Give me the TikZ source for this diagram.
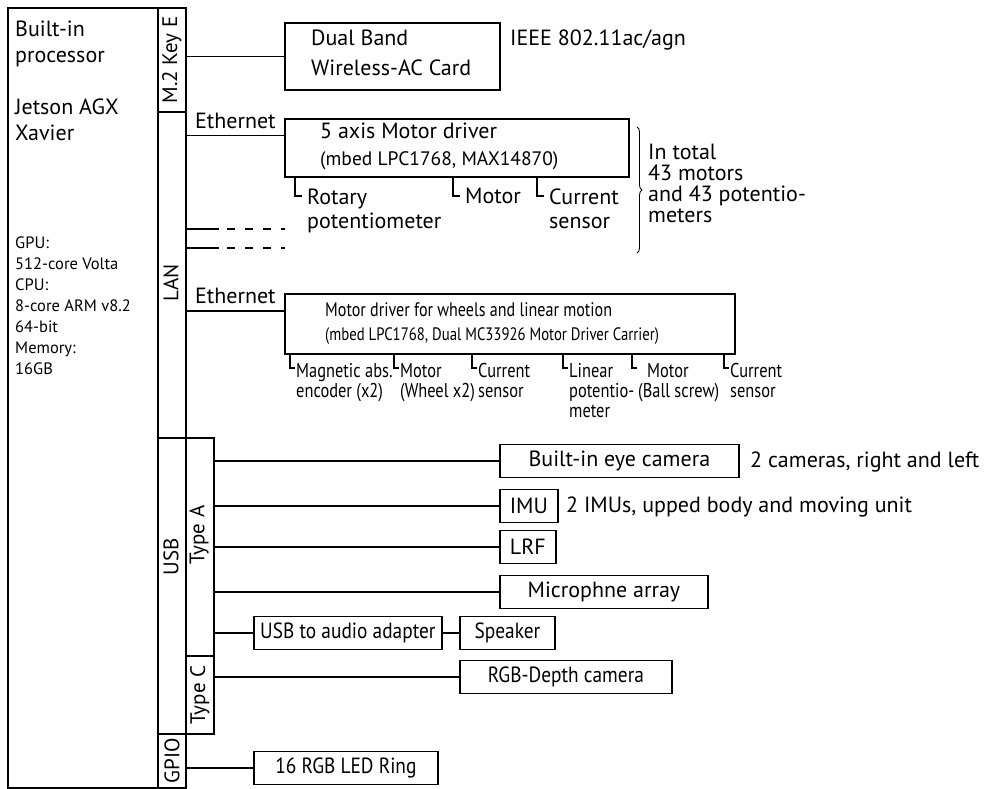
\documentclass[tikz,border=0pt]{standalone}
\usepackage{fontspec}
\setmainfont{PT Sans}
\newfontfamily\smalskrift[FakeStretch=0.82]{PT Sans}
\newfontfamily\tettskrift[FakeStretch=0.88]{PT Sans}
\usetikzlibrary{positioning,decorations.pathreplacing}

\newcommand{\stor}{\fontsize{22}{26}\selectfont}
\newcommand{\liten}{\fontsize{16.5}{21}\selectfont}
\newcommand{\tett}{\tettskrift\fontsize{22}{26}\selectfont}
\newcommand{\smal}{\smalskrift\fontsize{20}{20}\selectfont}
\newcommand{\smalmidt}{\smalskrift\fontsize{19.6}{24}\selectfont}
\newcommand{\smalliten}{\smalskrift\fontsize{18}{20}\selectfont}

\tikzset{
  boks/.style={draw, line width=1.8pt, inner sep=0pt, minimum height=33, anchor=west, font=\stor},
  kol/.style={draw, line width=1.8pt, inner sep=0pt, minimum width=28, anchor=north west},
  rot/.style={rotate=90, inner sep=0pt, font=\fontsize{21}{24}\selectfont},
  tekst/.style={inner sep=0pt, align=left, anchor=base west, font=\stor},
  ledning/.style={line width=1.2pt},
}

\begin{document}
\begin{tikzpicture}[x=1pt, y=-1pt]
  \useasboundingbox (0,0) rectangle (991,789);

  % prosessor
  \node[draw, line width=1.8pt, inner sep=0pt, minimum width=150, minimum height=780, anchor=north west] (xavier) at (7,7) {};
  \node[tekst] (navn) at (15,63) {Built-in\\processor};
  \node[tekst] (jetson) at (15,141) {Jetson AGX\\Xavier};
  \node[tekst, font=\liten] (spek) at (15,374) {GPU:\\512-core Volta\\CPU:\\8-core ARM v8.2\\64-bit\\Memory:\\16GB};

  % grensesnitt
  \node[kol, minimum height=104] (m2) at (157,7) {};
  \node[kol, minimum height=326] (lan) at (157,111) {};
  \node[kol, minimum height=296] (usb) at (157,437) {};
  \node[kol, minimum height=54] (gpio) at (157,733) {};
  \node[kol, minimum height=218] (typea) at (185,437) {};
  \node[kol, minimum height=78] (typec) at (185,655) {};
  \node[rot] (lm2) at (m2) {M.2 Key E};
  \node[rot] (llan) at (171,283) {LAN};
  \node[rot] (lusb) at (171,557) {USB};
  \node[rot] (lgpio) at (gpio) {GPIO};
  \node[rot] (ltypea) at (199,535) {Type A};
  \node[rot] (ltypec) at (typec) {Type C};

  % M.2: trådløst kort
  \node[boks, minimum width=215, minimum height=67, anchor=north west] (wifi) at (284,22) {};
  \node[tekst, font=\fontsize{22}{30}\selectfont] (wifitekst) at (311,76) {Dual Band\\Wireless-AC Card};
  \node[tekst] (ieee) at (510,46) {IEEE 802.11ac/agn};
  \draw[ledning] (wifi.west -| m2.east) -- (wifi.west);

  % LAN: 5-akse motordriver
  \node[boks, minimum width=344, minimum height=58, anchor=north west] (driver5) at (284,118) {};
  \node[tekst] (driver5tekst) at (320,139) {5 axis Motor driver};
  \node[tekst, font=\fontsize{19.5}{24}\selectfont] (driver5chip) at (320,166) {(mbed LPC1768, MAX14870)};
  \draw[ledning] ([yshift=12pt]driver5.west -| lan.east) -- node[above=7pt, inner sep=0pt, font=\stor] (eth1) {Ethernet} ([yshift=12pt]driver5.west);
  \foreach \x/\n/\navn/\tekst in {307/1/rotpot/{Rotary\\potentiometer}, 465/0/motor/{Motor}, 549/1/strom/{Current\\sensor}}{
    \node[tekst, font=\fontsize{22}{24}\selectfont] (\navn) at (\x,204+\n*24) {\tekst};
    \coordinate (\navn-hake) at (\x-5,196);
    \draw[ledning] ([xshift=-7pt]\navn-hake |- driver5.south) |- (\navn-hake);
  }
  \draw[decorate, decoration={brace, amplitude=5pt}, line width=0.9pt] (637,127) -- (637,253);
  \node[tekst, font=\fontsize{22}{21.1}\selectfont] (totalt) at (648,222.7) {In total\\43 motors\\and 43 potentio-\\meters};

  % flere drivere, stiplet
  \foreach \y in {229,248}{
    \coordinate (slutt\y) at (285,\y);
    \draw[ledning] (lan.east |- slutt\y) -- ++(32,0);
    \draw[ledning, dash pattern=on 8pt off 10pt] ([xshift=-58pt]slutt\y) -- (slutt\y);
  }

  % LAN: hjul og lineær bevegelse
  \node[boks, minimum width=450, minimum height=60, anchor=north west] (driverh) at (284,293) {};
  \node[tekst, font=\smalmidt] (driverhtekst) at (325,316) {Motor driver for wheels and linear motion};
  \node[tekst, font=\smalliten] (driverhchip) at (325,340) {(mbed LPC1768, Dual MC33926 Motor Driver Carrier)};
  \draw[ledning] ([yshift=13pt]driverh.west -| lan.east) -- node[above=7pt, inner sep=0pt, font=\stor] (eth2) {Ethernet} ([yshift=13pt]driverh.west);
  \foreach \x/\n/\navn/\tekst in {296/1/magenc/{Magnetic abs.\\encoder (x2)}, 400/1/hjul/{Motor\\(Wheel x2)},
      478/1/strom2/{Current\\sensor}, 569/2/linpot/{Linear\\potentio-\\meter}, 638/1/kule/{\hspace{9pt}Motor\\(Ball screw)},
      730/1/strom3/{Current\\sensor}}{
    \node[tekst, font=\smal] (\navn) at (\x,377+\n*20) {\tekst};
    \coordinate (\navn-hake) at (\x-1,368);
    \draw[ledning] ([xshift=-5pt]\navn-hake |- driverh.south) |- (\navn-hake);
  }

  % USB
  \node[boks, minimum width=239] (eye) at (499,461) {Built-in eye camera};
  \node[tekst] (eyenote) at (750,467) {2 cameras, right and left};
  \node[boks, minimum width=58] (imu) at (499,506) {IMU};
  \node[tekst] (imunote) at (566,512) {2 IMUs, upped body and moving unit};
  \node[boks, minimum width=56] (lrf) at (499,547) {LRF};
  \node[boks, minimum width=208] (mic) at (499,592) {Microphne array};
  \node[boks, minimum width=188, font=\tett] (audio) at (253,633) {USB to audio adapter};
  \node[boks, minimum width=95, font=\tett] (speaker) at (459,633) {Speaker};
  \node[boks, minimum width=212, font=\tett] (rgbd) at (459,677) {RGB-Depth camera};
  \foreach \enhet in {eye,imu,lrf,mic,audio}
    \draw[ledning] (\enhet.west -| typea.east) -- (\enhet.west);
  \draw[ledning] (audio) -- (speaker);
  \draw[ledning] (rgbd.west -| typec.east) -- (rgbd.west);

  % GPIO
  \node[boks, minimum width=184, font=\tett] (led) at (253,768) {16 RGB LED Ring};
  \draw[ledning] (led.west -| gpio.east) -- (led.west);
\end{tikzpicture}
\end{document}
